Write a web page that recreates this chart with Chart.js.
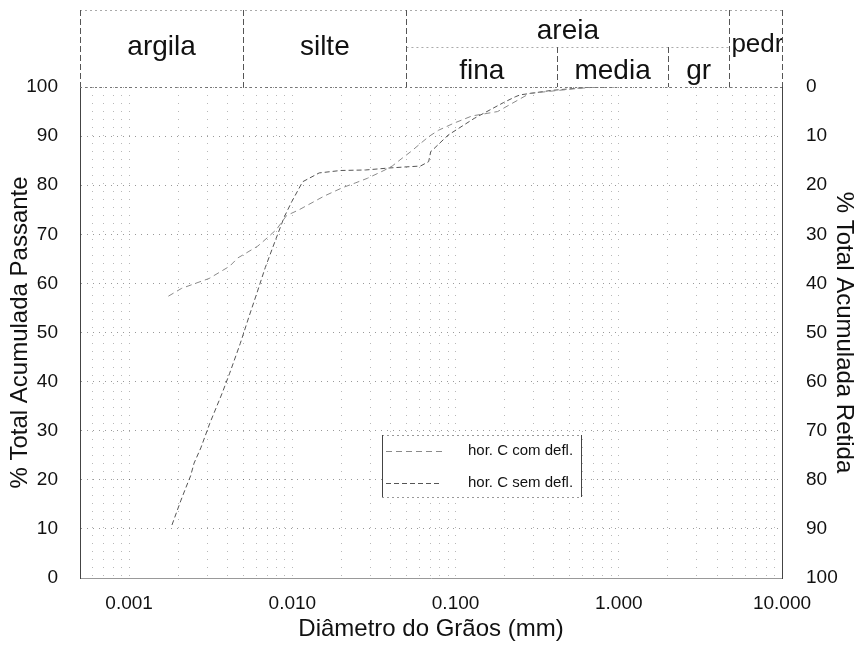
<!DOCTYPE html>
<html>
<head>
<meta charset="utf-8">
<script src="https://cdn.jsdelivr.net/npm/chart.js@4.4.1/dist/chart.umd.min.js"></script>
<style>
  html, body { margin: 0; padding: 0; background: #fff; }
  #wrap { width: 856px; height: 648px; position: relative; }
</style>
</head>
<body>
<div id="wrap"><canvas id="grain"></canvas></div>
<script>
// diameters in mm, % passing
const diamCom = [0.00174, 0.0021, 0.00309, 0.00413, 0.00464, 0.00516, 0.00614, 0.00714, 0.008, 0.0092,
  0.011, 0.0157, 0.0203, 0.0245, 0.0288, 0.0364, 0.0409, 0.0471, 0.053, 0.0595,
  0.0685, 0.0787, 0.0972, 0.126, 0.181, 0.285, 0.425, 0.56, 0.74];
const passCom = [57.4, 59.0, 61.0, 63.5, 65.2, 66.1, 67.6, 69.5, 71.0, 73.8,
  75.0, 77.8, 79.5, 80.5, 81.4, 83.0, 83.9, 85.5, 86.8, 88.2,
  89.9, 91.2, 92.6, 94.1, 95.0, 98.7, 99.3, 99.7, 100];

const diamSem = [0.00183, 0.00207, 0.00222, 0.00238, 0.0025, 0.00275, 0.00312, 0.00371, 0.00413, 0.0048,
  0.00542, 0.00606, 0.00682, 0.00796, 0.00894, 0.0099, 0.01156, 0.0146, 0.0198, 0.0281,
  0.039, 0.0482, 0.0609, 0.0684, 0.0704, 0.09, 0.13, 0.196, 0.232, 0.249, 0.385, 0.675, 1.0];
const passSem = [10.8, 15.7, 18.3, 20.8, 23.4, 26.5, 31.5, 37.6, 41.7, 47.8,
  53.2, 58.0, 63.2, 69.2, 73.6, 76.6, 80.7, 82.5, 83.0, 83.1,
  83.5, 83.7, 83.9, 84.8, 86.8, 90.2, 93.6, 96.8, 98.0, 98.4, 99.3, 100, 100];

const seriesLabels = ["hor. C com defl.", "hor. C sem defl."];

// x axis (log) labels and limits
const xMin = 0.0005, xMax = 10;
const xMajorTicks = [0.001, 0.01, 0.1, 1, 10];

// fraction limits (mm): argila | silte | fina | media | gr | pedr
const fractionLimits = [0.005, 0.05, 0.42, 2.0, 4.76];
const topNames = ["argila", "silte", "areia", "pedr"];
const sandNames = ["fina", "media", "gr"];

const FONT = "'Liberation Sans', Arial, Helvetica, sans-serif";
Chart.defaults.font.family = FONT;
Chart.defaults.color = "#111";

function toPoints(xs, ys) {
  return xs.map((d, i) => ({ x: d, y: ys[i] }));
}

// grid positions for the log axis: 1..9 x 10^k inside the range
function logGrid() {
  const out = [];
  for (let e = -4; e <= 1; e++) {
    for (let m = 1; m <= 9; m++) {
      const v = +(m * Math.pow(10, e)).toPrecision(6);
      if (v >= xMin - 1e-12 && v <= xMax + 1e-12) out.push(v);
    }
  }
  return out;
}

function isMajor(v) {
  return xMajorTicks.some(t => Math.abs(t - v) / t < 1e-6);
}

// ====================
// HEADER (soil classes)
// ====================
const headerPlugin = {
  id: "header",
  afterDraw(chart) {
    const { ctx, chartArea, scales } = chart;
    const px = v => scales.x.getPixelForValue(v);
    const L = chartArea.left, R = chartArea.right;
    const top = 10, mid = 47, bot = chartArea.top;
    const [b0, b1, b2, b3, b4] = fractionLimits.map(px);

    const line = (x1, y1, x2, y2) => {
      ctx.beginPath(); ctx.moveTo(x1, y1); ctx.lineTo(x2, y2); ctx.stroke();
    };

    ctx.save();
    ctx.lineWidth = 1;
    ctx.strokeStyle = "#aaa";
    ctx.setLineDash([2, 3]);
    line(L, top + 0.5, R, top + 0.5);
    line(b1, mid + 0.5, b4, mid + 0.5);
    ctx.strokeStyle = "#777";
    line(L, bot + 0.5, R, bot + 0.5);

    ctx.strokeStyle = "#555";
    ctx.setLineDash([6, 3]);
    [L, b0, b1, b4, R].forEach(x => line(Math.round(x) + 0.5, top, Math.round(x) + 0.5, bot));
    [b2, b3].forEach(x => line(Math.round(x) + 0.5, mid, Math.round(x) + 0.5, bot));
    ctx.setLineDash([]);

    ctx.fillStyle = "#111";
    ctx.font = "28px " + FONT;
    ctx.textAlign = "center";
    ctx.textBaseline = "alphabetic";
    ctx.fillText(topNames[0], (L + b0) / 2, 55);
    ctx.fillText(topNames[1], (b0 + b1) / 2, 55);
    ctx.fillText(topNames[2], (b1 + b4) / 2, 39);
    ctx.fillText(sandNames[0], (b1 + b2) / 2, 79);
    ctx.fillText(sandNames[1], (b2 + b3) / 2, 79);
    ctx.fillText(sandNames[2], (b3 + b4) / 2, 79);

    // "pedr" is cut off by the right border
    ctx.save();
    ctx.beginPath();
    ctx.rect(b4, top, R - b4, bot - top);
    ctx.clip();
    ctx.textAlign = "left";
    ctx.font = "26px " + FONT;
    ctx.fillText(topNames[3], b4 + 2, 52);
    ctx.restore();

    ctx.restore();
  }
};

// ==============
// LEGEND in plot
// ==============
const legendPlugin = {
  id: "boxLegend",
  afterDraw(chart) {
    const { ctx } = chart;
    const bx = 382, by = 435, bw = 199, bh = 62;
    ctx.save();
    ctx.fillStyle = "#fff";
    ctx.fillRect(bx, by, bw, bh);
    ctx.lineWidth = 1;
    ctx.strokeStyle = "#999";
    ctx.setLineDash([2, 3]);
    ctx.beginPath();
    ctx.moveTo(bx, by + 0.5); ctx.lineTo(bx + bw, by + 0.5);
    ctx.moveTo(bx, by + bh + 0.5); ctx.lineTo(bx + bw, by + bh + 0.5);
    ctx.stroke();
    ctx.strokeStyle = "#444";
    ctx.setLineDash([]);
    ctx.beginPath();
    ctx.moveTo(bx + 0.5, by); ctx.lineTo(bx + 0.5, by + bh);
    ctx.moveTo(bx + bw + 0.5, by); ctx.lineTo(bx + bw + 0.5, by + bh);
    ctx.stroke();

    chart.data.datasets.forEach((ds, i) => {
      const y = by + 16 + i * 32;
      ctx.strokeStyle = ds.borderColor;
      ctx.lineWidth = ds.borderWidth;
      ctx.setLineDash(ds.borderDash || []);
      ctx.beginPath();
      ctx.moveTo(bx + 4, y + 0.5); ctx.lineTo(bx + 60, y + 0.5);
      ctx.stroke();
      ctx.setLineDash([]);
      ctx.fillStyle = "#111";
      ctx.font = "15px " + FONT;
      ctx.textAlign = "left";
      ctx.textBaseline = "middle";
      ctx.fillText(ds.label, bx + 86, y);
    });
    ctx.restore();
  }
};

const ctx = document.getElementById("grain");
new Chart(ctx, {
  type: "scatter",
  data: {
    datasets: [
      {
        label: seriesLabels[0],
        data: toPoints(diamCom, passCom),
        showLine: true,
        borderColor: "#8a8a8a",
        borderWidth: 1,
        borderDash: [6, 4],
        pointRadius: 0,
        yAxisID: "y"
      },
      {
        label: seriesLabels[1],
        data: toPoints(diamSem, passSem),
        showLine: true,
        borderColor: "#555",
        borderWidth: 1,
        borderDash: [5, 3],
        pointRadius: 0,
        yAxisID: "y"
      }
    ]
  },
  options: {
    responsive: true,
    maintainAspectRatio: false,
    animation: false,
    devicePixelRatio: 1,
    layout: { padding: { top: 87, left: 0, right: 0, bottom: 0 } },
    plugins: {
      legend: { display: false },
      tooltip: { enabled: false }
    },
    scales: {
      x: {
        type: "logarithmic",
        min: xMin,
        max: xMax,
        afterBuildTicks: s => { s.ticks = logGrid().map(v => ({ value: v })); },
        afterFit: s => { s.height = 70; },
        ticks: {
          autoSkip: false,
          maxRotation: 0,
          padding: 14,
          font: { size: 19 },
          color: "#111",
          callback: v => isMajor(v) ? Number(v).toFixed(3) : ""
        },
        grid: {
          drawTicks: false,
          color: "rgba(0,0,0,0.28)",
          lineWidth: 1
        },
        // in v4 border.dash styles the grid lines
        border: { display: true, color: "#999", dash: [1, 7] },
        title: {
          display: true,
          text: "Diâmetro do Grãos (mm)",
          font: { size: 24 },
          color: "#111",
          padding: { top: 0, bottom: 4 }
        }
      },
      y: {
        position: "left",
        min: 0,
        max: 100,
        afterFit: s => { s.width = 80; },
        ticks: { stepSize: 10, padding: 22, font: { size: 19 }, color: "#111" },
        grid: { drawTicks: false, color: "rgba(0,0,0,0.4)", lineWidth: 1 },
        border: { display: true, color: "#444", dash: [1, 5] },
        title: {
          display: true,
          text: "% Total Acumulada Passante",
          font: { size: 24 },
          color: "#111",
          padding: { top: 6, bottom: 0 }
        }
      },
      y2: {
        position: "right",
        min: 0,
        max: 100,
        reverse: true,
        afterFit: s => { s.width = 74; },
        ticks: { stepSize: 10, padding: 24, font: { size: 19 }, color: "#111" },
        grid: { display: false, drawTicks: false },
        border: { display: true, color: "#444" },
        title: {
          display: true,
          text: "% Total Acumulada Retida",
          font: { size: 24, lineHeight: 1 },
          color: "#111",
          padding: { top: 0, bottom: 0 }
        }
      }
    }
  },
  plugins: [headerPlugin, legendPlugin]
});
</script>
</body>
</html>
